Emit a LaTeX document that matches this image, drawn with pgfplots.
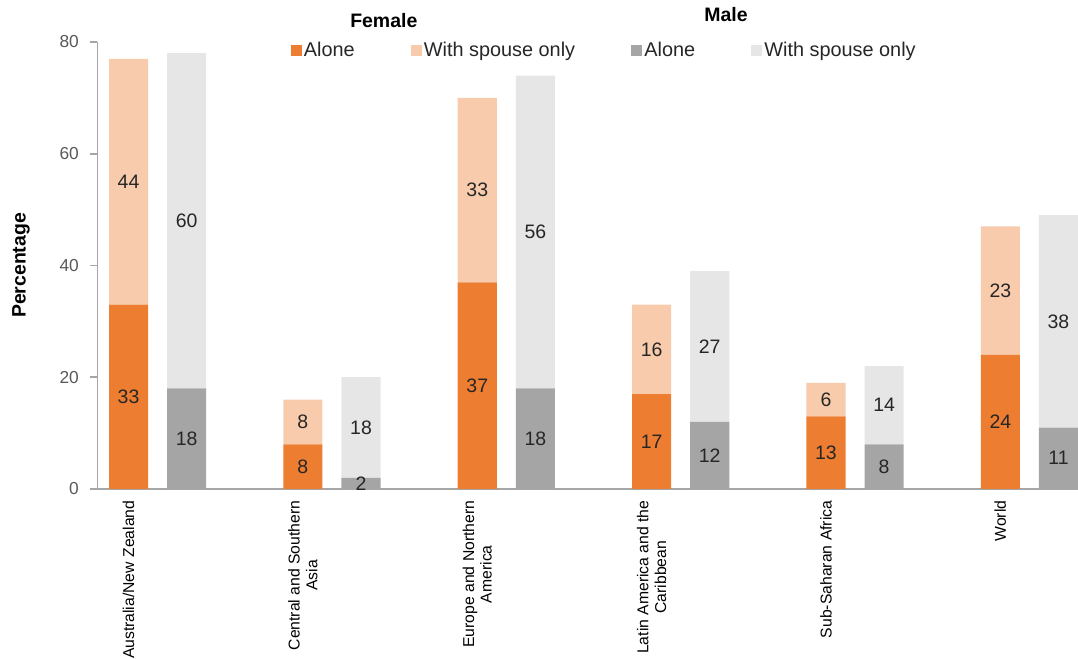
\documentclass[border=0pt]{standalone}
\usepackage{fontspec}
\setmainfont{Liberation Sans}
\usepackage{pgfplots}
\pgfplotsset{compat=1.18}
\definecolor{cAlF}{HTML}{ED7D31}
\definecolor{cSpF}{HTML}{F8CBAD}
\definecolor{cAlM}{HTML}{A5A5A5}
\definecolor{cSpM}{HTML}{E7E6E6}
\definecolor{axgray}{HTML}{A6A6A6}
\definecolor{ticktxt}{HTML}{595959}
\definecolor{lbltxt}{HTML}{262626}
\pgfplotsset{
  commonframe/.style={
    at={(0,0)}, anchor=south west,
    scale only axis, width=735.375pt, height=335.25pt,
    xmin=-0.534, xmax=16.336, ymin=0, ymax=80,
  }
}
\begin{document}
\begin{tikzpicture}
\begin{axis}[
  commonframe, clip=false,
  ybar stacked, bar width=0.672,
  axis x line*=bottom, axis y line*=left,
  axis line style={axgray, line width=1.2pt, -},
  ytick={0,20,...,80},
  xtick={0,3,6,9,12,15},
  xticklabels={Australia/New Zealand, {Central and Southern\\Asia}, {Europe and Northern\\America}, {Latin America and the\\Caribbean}, Sub-Saharan Africa, World},
  x tick label style={rotate=90, anchor=east, align=center, font=\fontsize{11.8pt}{13.2pt}\selectfont, text=black},
  y tick label style={font=\fontsize{13pt}{15pt}\selectfont, text=ticktxt, xshift=-5.25pt},
  /pgf/number format/assume math mode=true,
  tick align=outside,
  major tick length=5.25pt,
  xtick style={draw=none},
  ytick style={axgray, line width=1.2pt},
  every axis y label/.style={at={(axis description cs:-0.078,0.5)}, anchor=center, rotate=90, font=\bfseries\fontsize{14.6pt}{17pt}\selectfont, text=black},
  ylabel={Percentage},
  legend columns=4,
  legend style={draw=none, fill=none, at={(axis description cs:0.197,0.982)}, anchor=west, inner sep=0pt, outer sep=0pt,
    font=\fontsize{14.9pt}{17pt}\selectfont, text=lbltxt,
    nodes={inner sep=1.5pt},
    /tikz/every even column/.append style={column sep=40.5pt}},
  legend image code/.code={\fill[#1] (0pt,-4.1pt) rectangle (8.4pt,4.1pt);},
]
\addplot[fill=cAlF, draw=none] coordinates {(0,33) (1,0) (3,8) (4,0) (6,37) (7,0) (9,17) (10,0) (12,13) (13,0) (15,24) (16,0)};
\addlegendentry{Alone}
\addplot[fill=cSpF, draw=none] coordinates {(0,44) (1,0) (3,8) (4,0) (6,33) (7,0) (9,16) (10,0) (12,6) (13,0) (15,23) (16,0)};
\addlegendentry{With spouse only}
\addplot[fill=cAlM, draw=none] coordinates {(0,0) (1,18) (3,0) (4,2) (6,0) (7,18) (9,0) (10,12) (12,0) (13,8) (15,0) (16,11)};
\addlegendentry{Alone}
\addplot[fill=cSpM, draw=none] coordinates {(0,0) (1,60) (3,0) (4,18) (6,0) (7,56) (9,0) (10,27) (12,0) (13,14) (15,0) (16,38)};
\addlegendentry{With spouse only}
\node[font=\bfseries\fontsize{14.6pt}{17pt}\selectfont, text=black] at (axis description cs:0.292,1.049) {Female};
\node[font=\bfseries\fontsize{14.6pt}{17pt}\selectfont, text=black] at (axis description cs:0.641,1.061) {Male};
\end{axis}
% value labels at segment midpoints
\begin{axis}[commonframe, hide axis, clip=false]
\addplot[only marks, mark=none, nodes near coords, point meta=explicit symbolic,
  every node near coord/.style={anchor=center, font=\fontsize{14.6pt}{17pt}\selectfont, text=lbltxt}]
  coordinates {
  (0,16.5)[33] (3,4)[8] (6,18.5)[37] (9,8.5)[17] (12,6.5)[13] (15,12)[24]
  (0,55)[44] (3,12)[8] (6,53.5)[33] (9,25)[16] (12,16)[6] (15,35.5)[23]
  (1,9)[18] (4,1)[2] (7,9)[18] (10,6)[12] (13,4)[8] (16,5.5)[11]
  (1,48)[60] (4,11)[18] (7,46)[56] (10,25.5)[27] (13,15)[14] (16,30)[38]
  };
\end{axis}
\pgfresetboundingbox
\path[use as bounding box] (-73.125pt,-127.5pt) rectangle (735.375pt,366.75pt);
\end{tikzpicture}
\end{document}
